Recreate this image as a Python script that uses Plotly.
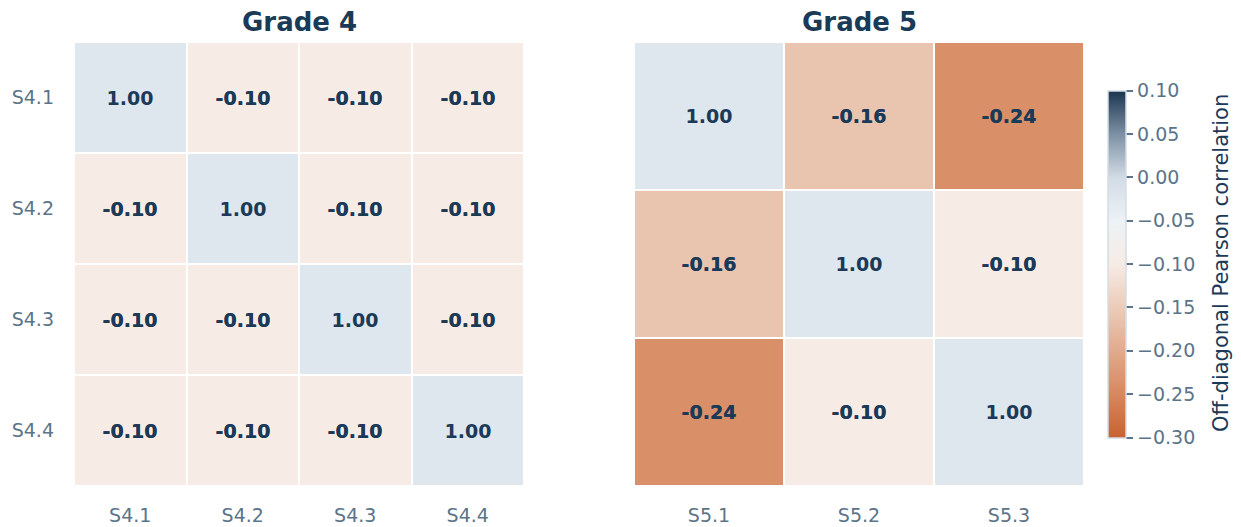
import numpy as np
import plotly.graph_objects as go

g4_labels = ["S4.1", "S4.2", "S4.3", "S4.4"]
g5_labels = ["S5.1", "S5.2", "S5.3"]
g4_values = [
    [1.00, -0.10, -0.10, -0.10],
    [-0.10, 1.00, -0.10, -0.10],
    [-0.10, -0.10, 1.00, -0.10],
    [-0.10, -0.10, -0.10, 1.00],
]
g5_values = [
    [1.00, -0.16, -0.24],
    [-0.16, 1.00, -0.10],
    [-0.24, -0.10, 1.00],
]
titles = ["Grade 4", "Grade 5"]
cb_ticks = [0.10, 0.05, 0.00, -0.05, -0.10, -0.15, -0.20, -0.25, -0.30]
cb_title = "Off-diagonal Pearson correlation"

NAVY = "#1b3a57"
TICK = "#5b7489"
FONT = "DejaVu Sans"
DIAG = "#dee6ee"
colorscale = [
    [0.0, "#c8622f"],
    [0.15, "#d98f68"],
    [0.35, "#e9c5b0"],
    [0.5, "#f6ebe5"],
    [0.625, "#edf2f6"],
    [0.75, "#d2dce5"],
    [0.875, "#7d91a4"],
    [1.0, "#1b3550"],
]

# page has an 8px body margin; the figure is sized/positioned to compensate
OFF = 8
W, H = 1241 - OFF, 527 - OFF

def fx(a):
    return (a - OFF) / W

def fy(a):
    return 1 - (a - OFF) / H

ydom = [fy(486), fy(42)]

fig = go.Figure()

panels = [(g4_values, g4_labels, "x", "y"), (g5_values, g5_labels, "x2", "y2")]
for i, (vals, labels, xa, ya) in enumerate(panels):
    m = np.array(vals, dtype=float)
    n = len(labels)
    eye = np.eye(n, dtype=bool)
    off = np.where(eye, np.nan, m)
    diag = np.where(eye, m, np.nan)
    txt = [[f"{v:.2f}" for v in row] for row in m]
    fig.add_trace(go.Heatmap(
        z=off, x=labels, y=labels, text=txt, texttemplate="%{text}",
        textfont=dict(family=FONT, size=19, color=NAVY, weight="bold"),
        colorscale=colorscale, zmin=-0.30, zmax=0.10, xgap=2, ygap=2,
        xaxis=xa, yaxis=ya, hoverongaps=False,
        showscale=(i == 1),
        colorbar=dict(
            x=fx(1108), xanchor="left", xpad=0, ypad=0, y=fy(264), yanchor="middle",
            len=347 / H, lenmode="fraction", thickness=18,
            outlinecolor="#d5dde5", outlinewidth=1.5,
            tickvals=cb_ticks, ticktext=[f"{t:.2f}".replace("-", "\u2212") for t in cb_ticks],
            ticks="outside", ticklen=7, tickcolor=TICK, tickwidth=1.5,
            tickfont=dict(family=FONT, size=19, color=TICK),
        ),
    ))
    fig.add_trace(go.Heatmap(
        z=diag, x=labels, y=labels, text=txt, texttemplate="%{text}",
        textfont=dict(family=FONT, size=19, color=NAVY, weight="bold"),
        colorscale=[[0, DIAG], [1, DIAG]], zmin=0, zmax=2, xgap=2, ygap=2,
        xaxis=xa, yaxis=ya, showscale=False, hoverongaps=False,
    ))

axis_common = dict(showgrid=False, zeroline=False, showline=False, ticks="",
                   tickfont=dict(family=FONT, size=19, color=TICK))
annotations = [
    dict(text=f"<b>{t}</b>", x=fx(cx), y=fy(22), xref="paper", yref="paper",
         xanchor="center", yanchor="middle", showarrow=False,
         font=dict(family=FONT, size=26, color=NAVY))
    for t, cx in zip(titles, [299, 859])
]
annotations.append(dict(
    text=cb_title, x=fx(1221), y=fy(263), xref="paper", yref="paper",
    xanchor="center", yanchor="middle", textangle=-90, showarrow=False,
    font=dict(family=FONT, size=21, color=NAVY)))

fig.update_layout(
    width=W, height=H,
    margin=dict(l=0, r=0, t=0, b=0),
    paper_bgcolor="white", plot_bgcolor="white",
    xaxis=dict(domain=[fx(74), fx(524)], anchor="y", ticklabelstandoff=16, **axis_common),
    yaxis=dict(domain=ydom, anchor="x", autorange="reversed", ticklabelstandoff=19, **axis_common),
    xaxis2=dict(domain=[fx(634), fx(1084)], anchor="y2", ticklabelstandoff=16, **axis_common),
    yaxis2=dict(domain=ydom, anchor="x2", autorange="reversed", showticklabels=False, **axis_common),
    annotations=annotations,
)

fig.write_html("out.html")
